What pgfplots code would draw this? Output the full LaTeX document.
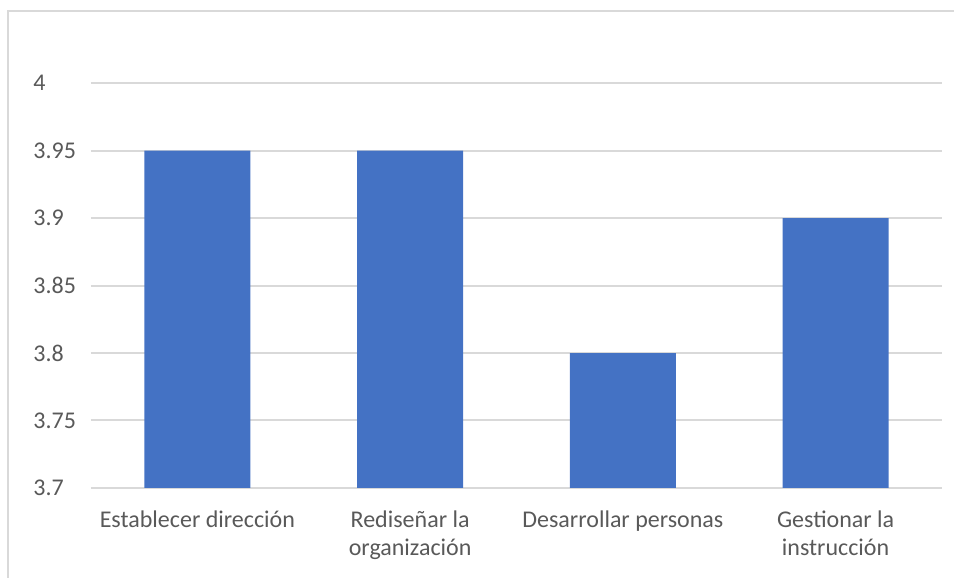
\documentclass[border=0pt]{standalone}
\usepackage{pgfplots}
\pgfplotsset{compat=1.18}
\usepackage{fontspec}
\setmainfont{Carlito}

\definecolor{barblue}{HTML}{4472C4}
\definecolor{labelgray}{HTML}{595959}
\definecolor{gridgray}{HTML}{D9D9D9}

\begin{document}
\begin{tikzpicture}
    % page is 477pt x 289pt (1pt = 2px of the reference)
    \useasboundingbox (0,0) rectangle (477pt,289pt);
    \draw[gridgray, line width=0.8pt] (4pt,-10pt) -- (4pt,283.5pt) -- (490pt,283.5pt);
    \begin{axis}[
        at={(45.5pt,45pt)},
        anchor=south west,
        scale only axis,
        width=425.5pt,
        height=202.5pt,
        xmin=-0.5, xmax=3.5,
        ymin=3.7, ymax=4,
        axis line style={draw=none},
        major tick length=0pt,
        ymajorgrids,
        grid style={gridgray, line width=1pt},
        ytick={3.7,3.75,3.8,3.85,3.9,3.95,4},
        yticklabels={3.7,3.75,3.8,3.85,3.9,3.95,4},
        xtick={0,1,2,3},
        xticklabels={Establecer dirección, {Rediseñar la\\organización}, Desarrollar personas, {Gestionar la\\instrucción}},
        tick label style={font=\fontsize{12}{14}\selectfont, text=labelgray},
        yticklabel style={anchor=west, inner sep=0pt, xshift=-29pt},
        xticklabel style={align=center, yshift=-8pt},
        ]
        \addplot [ybar, bar width=53pt, fill=barblue, draw=none]
        coordinates {
            (0,3.95)(1,3.95)(2,3.8)(3,3.9)};
    \end{axis}
\end{tikzpicture}
\end{document}
